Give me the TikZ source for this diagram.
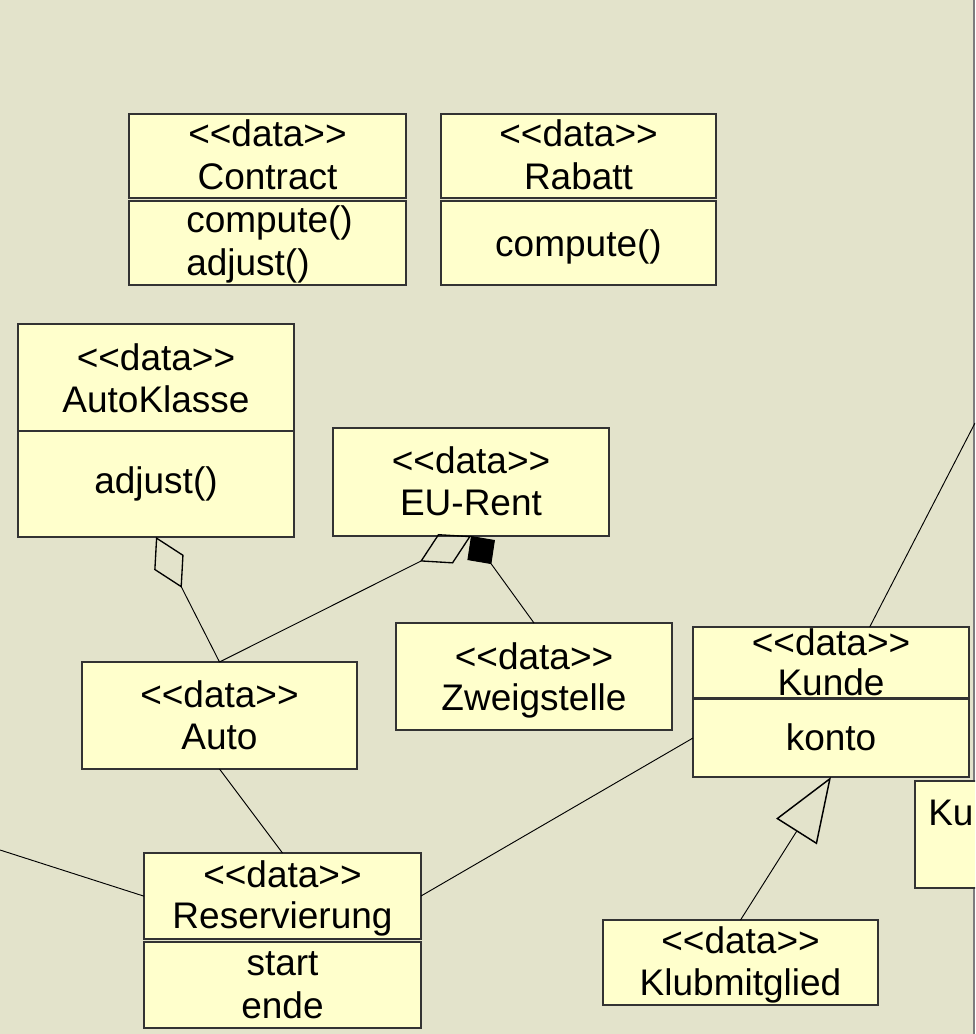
\documentclass[tikz,border=0pt]{standalone}
\usepackage{fontspec}
\setmainfont{Liberation Sans}
\usetikzlibrary{arrows.meta,fit}
\definecolor{canvas}{RGB}{227,227,203}
\definecolor{classfill}{RGB}{255,255,204}
\definecolor{frameline}{RGB}{125,125,125}
% stereotype label, with the << >> ligatures suppressed
\newcommand\stdata{<{}<data>{}>}
\begin{document}
\begin{tikzpicture}[x=0.75pt,y=-0.75pt,
  cls/.style={draw=black!80, fill=classfill, line width=0.8pt, rectangle,
              inner sep=0pt, outer sep=0pt},
  txt/.style={anchor=base, inner sep=0pt, text=black,
              font=\fontsize{27.75pt}{31.5pt}\selectfont},
  conn/.style={draw=black, line width=0.7pt},
  aggr/.style={-{Diamond[open, length=42.75pt, width=24.75pt, line width=1pt]}},
  comp/.style={-{Diamond[length=26pt, width=25.5pt]}},
  gen/.style={-{Triangle[open, length=48.4pt, width=36pt, line width=1.1pt]}}]

\useasboundingbox (0,0) rectangle (975,1034);
\clip (0,0) rectangle (975,1034);
\fill[canvas] (0,0) rectangle (975,1034);

% page edge on the right
\draw[frameline, line width=1.5pt] (973.5,0) -- (973.5,1034);

% ---- class boxes ----
\node[cls, minimum width=207.75pt, minimum height=63pt] (conTop) at (267.5,156) {};
\node[cls, minimum width=207.75pt, minimum height=63pt] (conBot) at (267.5,243) {};
\node[cls, minimum width=206.25pt, minimum height=63pt] (rabTop) at (578.5,156) {};
\node[cls, minimum width=206.25pt, minimum height=63pt] (rabBot) at (578.5,243) {};
\node[cls, minimum width=207pt, minimum height=159.75pt] (autoKl) at (156,430.5) {};
\node[cls, minimum width=207pt, minimum height=81pt] (eurent) at (471,482) {};
\node[cls, minimum width=207pt, minimum height=80.25pt] (zweig) at (534,676.5) {};
\node[cls, minimum width=206.25pt, minimum height=80.25pt] (auto) at (219.5,715.5) {};
\node[cls, minimum width=207.75pt, minimum height=64.5pt] (resTop) at (282.5,896) {};
\node[cls, minimum width=207.75pt, minimum height=64.5pt] (resBot) at (282.5,985) {};
\node[cls, minimum width=207pt, minimum height=53.25pt] (kundeTop) at (831,662.5) {};
\node[cls, minimum width=207pt, minimum height=58.5pt] (kundeBot) at (831,738) {};
\node[cls, minimum width=206.25pt, minimum height=63.75pt] (klub) at (740.5,962.5) {};
\node[cls, minimum width=63.75pt, minimum height=80.25pt] (kuBox) at (957.5,834.5) {};

% whole outlines of the two-part classes
\node[fit=(resTop)(resBot), inner sep=0pt, outer sep=0pt] (res) {};
\node[fit=(kundeTop)(kundeBot), inner sep=0pt, outer sep=0pt] (kunde) {};

% AutoKlasse compartment line
\draw[draw=black!80, line width=0.8pt] (autoKl.west |- 0,431) -- (autoKl.east |- 0,431);

% ---- connectors ----
\coordinate (leftEnd) at (0,850);
\coordinate (rightEnd) at (975,423);

\draw[conn, aggr] (auto.north) -- (autoKl.south);
\draw[conn, aggr] (auto.north) -- (eurent.south);
\draw[conn, comp] (zweig.north) -- (eurent.south);
\draw[conn] (auto.south) -- (resTop.north);
\draw[conn] (leftEnd) -- (res);
\draw[conn] (resTop.east) -- (kundeBot.west);
\draw[conn] (kunde) -- (rightEnd);
\draw[conn, gen] (klub.north) -- (kundeBot.south);

% ---- texts ----
\node[txt] (conA) at (267.5,147) {\stdata};
\node[txt] (conB) at (267.5,190) {Contract};
\node[txt, anchor=base west] (conC) at (186,233) {compute()};
\node[txt, anchor=base west] (conD) at (186,275) {adjust()};

\node[txt] (rabA) at (578.5,147) {\stdata};
\node[txt] (rabB) at (578.5,190) {Rabatt};
\node[txt] (rabC) at (578.5,257) {compute()};

\node[txt] (aklA) at (156,370) {\stdata};
\node[txt] (aklB) at (156,412) {AutoKlasse};
\node[txt] (aklC) at (156,493) {adjust()};

\node[txt] (euA) at (471,473) {\stdata};
\node[txt] (euB) at (471,515) {EU-Rent};

\node[txt] (zwA) at (534,669) {\stdata};
\node[txt] (zwB) at (534,710) {Zweigstelle};

\node[txt] (auA) at (219.5,707) {\stdata};
\node[txt] (auB) at (219.5,749) {Auto};

\node[txt] (reA) at (282.5,887) {\stdata};
\node[txt] (reB) at (282.5,928) {Reservierung};
\node[txt] (reC) at (282.5,975) {start};
\node[txt] (reD) at (282.5,1018) {ende};

\node[txt] (kuA) at (831,655) {\stdata};
\node[txt] (kuB) at (831,695) {Kunde};
\node[txt] (kuC) at (831,750) {konto};

\node[txt] (klA) at (740.5,953) {\stdata};
\node[txt] (klB) at (740.5,995) {Klubmitglied};

\node[txt, anchor=base west] (kuX) at (928,825) {Ku};
\end{tikzpicture}
\end{document}
